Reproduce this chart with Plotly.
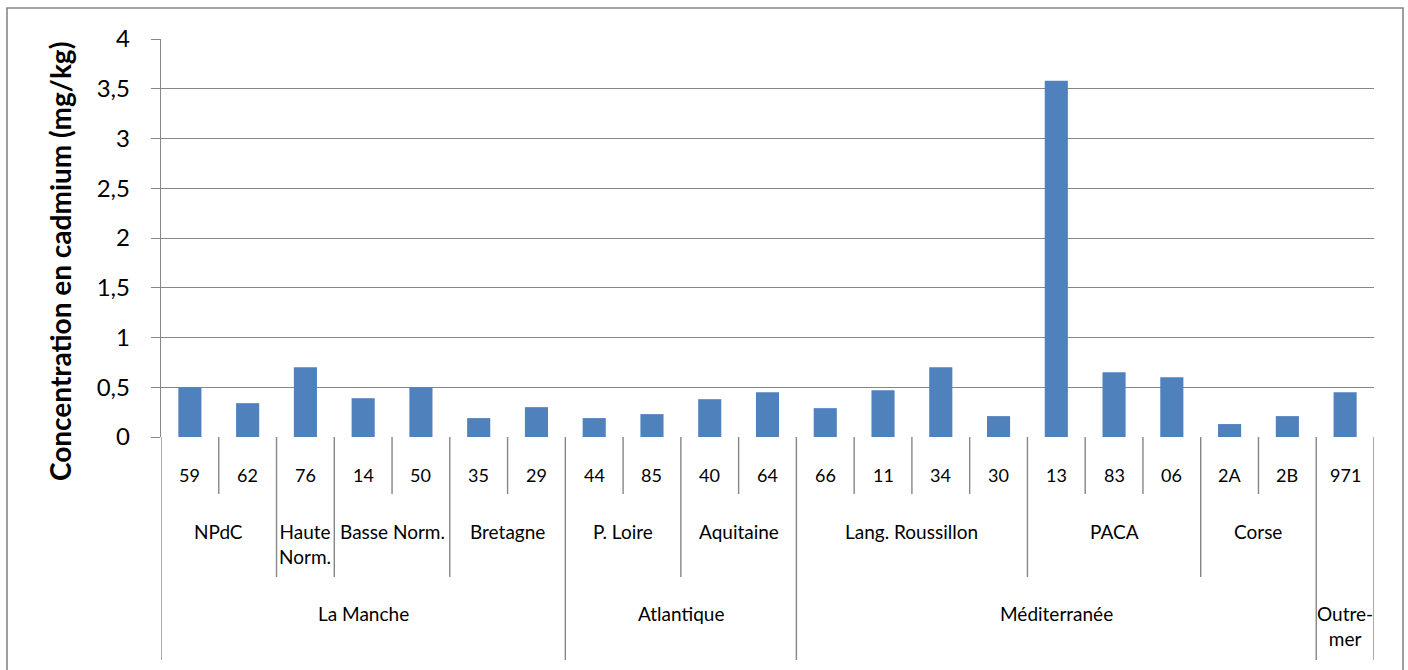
import plotly.graph_objects as go

# Cadmium concentration by département, grouped by region and coastal façade
departements = ["59", "62", "76", "14", "50", "35", "29", "44", "85", "40", "64",
                "66", "11", "34", "30", "13", "83", "06", "2A", "2B", "971"]
cadmium = [0.50, 0.34, 0.70, 0.39, 0.50, 0.19, 0.30, 0.19, 0.23, 0.38, 0.45,
           0.29, 0.47, 0.70, 0.21, 3.58, 0.65, 0.60, 0.13, 0.21, 0.45]

regions = ["NPdC", "Haute<br>Norm.", "Basse Norm.", "Bretagne", "P. Loire", "Aquitaine",
           "Lang. Roussillon", "PACA", "Corse", ""]
region_sizes = [2, 1, 2, 2, 2, 2, 4, 3, 2, 1]

facades = ["La Manche", "Atlantique", "Méditerranée", "Outre-<br>mer"]
facade_sizes = [7, 4, 9, 1]

y_ticks = [0, 0.5, 1, 1.5, 2, 2.5, 3, 3.5, 4]
y_tick_text = ["0", "0,5", "1", "1,5", "2", "2,5", "3", "3,5", "4"]

W, H = 1408, 670
L, R, T, B = 161, 34, 39, 233
PH = H - T - B
GRAY = "#868686"
FONT = "Lato"


def py(pixel_y):
    """Convert a page pixel row into paper coordinates of the plot area."""
    return (H - B - pixel_y) / PH


def px(pixel_x):
    return (pixel_x - L) / (W - L - R)


xs = list(range(len(departements)))

fig = go.Figure(go.Bar(x=xs, y=cadmium, marker_color="#4F81BD",
                       marker_line_width=0, width=0.4))

shapes = []
annotations = []

# Depth of the separator at each category boundary: 1 = départements row,
# 2 = regions row, 3 = façades row
depth = {i: 1 for i in range(len(departements) + 1)}
pos = 0
for n in region_sizes:
    depth[pos] = max(depth[pos], 2)
    pos += n
    depth[pos] = max(depth[pos], 2)
pos = 0
for n in facade_sizes:
    depth[pos] = 3
    pos += n
    depth[pos] = 3

row_bottom = {1: 494, 2: 577, 3: 660}
for i, d in depth.items():
    shapes.append(dict(type="line", xref="x", yref="paper",
                       x0=i - 0.5, x1=i - 0.5, y0=py(437), y1=py(row_bottom[d]),
                       line=dict(color=GRAY, width=1.4)))

# Chart frame
shapes.append(dict(type="rect", xref="paper", yref="paper",
                   x0=px(7), x1=px(1403), y0=py(700), y1=py(8),
                   line=dict(color=GRAY, width=1.6), layer="below"))

# Département labels
for i, d in enumerate(departements):
    annotations.append(dict(x=i, y=py(475), xref="x", yref="paper", text=d,
                            showarrow=False, xanchor="center", yanchor="middle",
                            font=dict(family=FONT, size=18, color="#000")))

# Region labels
pos = 0
for name, n in zip(regions, region_sizes):
    if name:
        annotations.append(dict(x=pos + (n - 1) / 2, y=py(518), xref="x", yref="paper",
                                text=name, showarrow=False, xanchor="center",
                                yanchor="top",
                                font=dict(family=FONT, size=19, color="#000")))
    pos += n

# Façade labels
pos = 0
for name, n in zip(facades, facade_sizes):
    annotations.append(dict(x=pos + (n - 1) / 2, y=py(600), xref="x", yref="paper",
                            text=name, showarrow=False, xanchor="center", yanchor="top",
                            font=dict(family=FONT, size=19, color="#000")))
    pos += n

# Axis title
annotations.append(dict(x=px(60), y=py(262), xref="paper", yref="paper",
                        text="<b>Concentration en cadmium (mg/kg)</b>",
                        textangle=-90, showarrow=False, xanchor="center",
                        yanchor="middle",
                        font=dict(family=FONT, size=28, color="#000")))

fig.update_layout(
    width=W, height=H,
    margin=dict(l=L, r=R, t=T, b=B),
    paper_bgcolor="white", plot_bgcolor="white",
    showlegend=False,
    shapes=shapes, annotations=annotations,
    xaxis=dict(range=[-0.5, len(departements) - 0.5], showticklabels=False,
               showgrid=False, zeroline=False, showline=False, ticks=""),
    yaxis=dict(range=[0, 4], tickvals=y_ticks, ticktext=y_tick_text,
               showgrid=True, gridcolor=GRAY, gridwidth=1.4,
               zeroline=False, showline=True, linecolor=GRAY, linewidth=1.4,
               ticks="outside", ticklen=9, tickcolor=GRAY, tickwidth=1.4,
               ticklabelstandoff=16,
               tickfont=dict(family=FONT, size=24, color="#000")),
)

fig.write_html("out.html")
